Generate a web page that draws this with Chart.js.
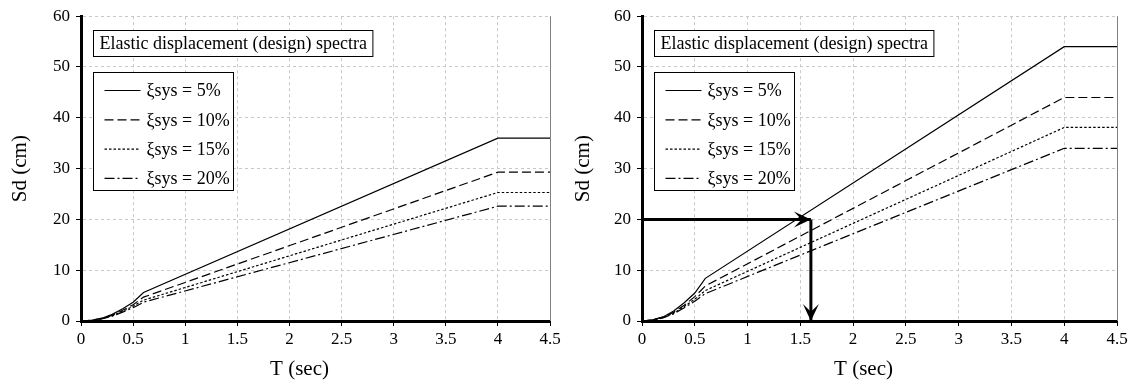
<!DOCTYPE html>
<html>
<head>
<meta charset="utf-8">
<script src="https://cdn.jsdelivr.net/npm/chart.js@4.4.0/dist/chart.umd.min.js"></script>
<style>
  body { margin: 0; background: #fff; }
  #wrap { position: relative; width: 1131px; height: 386px; }
  canvas { position: absolute; top: 0; }
</style>
</head>
<body>
<div id="wrap">
  <canvas id="leftChart" width="565" height="386" style="left:0"></canvas>
  <canvas id="rightChart" width="566" height="386" style="left:565px"></canvas>
</div>
<script>
// periods T (sec) where the curves were read
const periods = [0, 0.1, 0.2, 0.3, 0.4, 0.5, 0.6, 4, 4.5];
const dampingLabels = ['ξsys = 5%', 'ξsys = 10%', 'ξsys = 15%', 'ξsys = 20%'];
const keyTitle = 'Elastic displacement (design) spectra';
const xTitle = 'T (sec)';
const yTitle = 'Sd (cm)';

// left spectrum, Sd (cm)
const leftSd5  = [0, 0.15, 0.55, 1.3, 2.4, 3.7, 5.6, 36.0, 36.0];
const leftSd10 = [0, 0.13, 0.50, 1.15, 2.1, 3.2, 4.7, 29.3, 29.3];
const leftSd15 = [0, 0.12, 0.45, 1.05, 1.9, 2.9, 4.1, 25.3, 25.3];
const leftSd20 = [0, 0.11, 0.42, 0.95, 1.75, 2.6, 3.7, 22.6, 22.6];

// right spectrum, Sd (cm)
const rightSd5  = [0, 0.22, 0.80, 1.95, 3.6, 5.5, 8.4, 54.0, 54.0];
const rightSd10 = [0, 0.20, 0.75, 1.7, 3.1, 4.8, 6.9, 44.0, 44.0];
const rightSd15 = [0, 0.18, 0.68, 1.55, 2.85, 4.3, 6.0, 38.1, 38.1];
const rightSd20 = [0, 0.16, 0.62, 1.4, 2.6, 3.9, 5.4, 34.0, 34.0];

// design arrow on the right chart
const arrowPeriod = 1.6;
const arrowSd = 20;

const dashes = [[], [9, 4], [2.5, 2], [10, 3, 2, 3]];
const serif = '"Liberation Serif", "Times New Roman", serif';

function toPoints(ys) {
    return periods.map((t, i) => ({ x: t, y: ys[i] }));
}

function curveSets(series) {
    return series.map((ys, i) => ({
        label: dampingLabels[i],
        data: toPoints(ys),
        borderColor: '#000',
        borderWidth: 1.2,
        borderDash: dashes[i],
        pointRadius: 0,
        fill: false
    }));
}

// draws the key boxes, the arrow heads, the x title and the right frame line
const keyPlugin = {
    id: 'keyBoxes',
    afterDatasetsDraw(chart) {
        const ctx = chart.ctx;
        const a = chart.chartArea;
        ctx.save();

        // arrow heads
        chart.data.datasets.forEach((ds, di) => {
            if (!ds.arrow) return;
            const pts = chart.getDatasetMeta(di).data;
            const p1 = pts[pts.length - 2], p2 = pts[pts.length - 1];
            const ang = Math.atan2(p2.y - p1.y, p2.x - p1.x);
            const len = 17, half = 8;
            ctx.fillStyle = '#000';
            ctx.beginPath();
            ctx.moveTo(p2.x, p2.y);
            ctx.lineTo(p2.x - len * Math.cos(ang) + half * Math.sin(ang), p2.y - len * Math.sin(ang) - half * Math.cos(ang));
            ctx.lineTo(p2.x - 0.55 * len * Math.cos(ang), p2.y - 0.55 * len * Math.sin(ang));
            ctx.lineTo(p2.x - len * Math.cos(ang) - half * Math.sin(ang), p2.y - len * Math.sin(ang) + half * Math.cos(ang));
            ctx.closePath();
            ctx.fill();
        });

        // right frame
        ctx.strokeStyle = '#808080';
        ctx.lineWidth = 1;
        ctx.beginPath();
        ctx.moveTo(Math.round(a.right) + 0.5, a.top);
        ctx.lineTo(Math.round(a.right) + 0.5, a.bottom);
        ctx.stroke();

        // x axis title, sits a little left of the plot centre
        ctx.fillStyle = '#000';
        ctx.font = '21px ' + serif;
        ctx.textAlign = 'center';
        ctx.textBaseline = 'middle';
        ctx.fillText(xTitle, (a.left + a.right) / 2 - 16, 369);
        ctx.textAlign = 'left';

        // title box
        ctx.font = '18px ' + serif;
        const tw = ctx.measureText(keyTitle).width;
        const bx = Math.round(a.left) + 12.5, by = Math.round(a.top) + 14.5;
        ctx.fillStyle = '#fff';
        ctx.fillRect(bx, by, tw + 12, 26);
        ctx.strokeStyle = '#000';
        ctx.strokeRect(bx, by, tw + 12, 26);
        ctx.fillStyle = '#000';
        ctx.fillText(keyTitle, bx + 6, by + 14);

        // legend box
        const ly = Math.round(a.top) + 56.5;
        ctx.fillStyle = '#fff';
        ctx.fillRect(bx, ly, 140, 118);
        ctx.strokeRect(bx, ly, 140, 118);
        chart.data.datasets.forEach((ds, i) => {
            if (ds.arrow) return;
            const ry = ly + 18 + i * 29.3;
            ctx.strokeStyle = '#000';
            ctx.lineWidth = 1.2;
            ctx.setLineDash(ds.borderDash);
            ctx.beginPath();
            ctx.moveTo(bx + 11, ry);
            ctx.lineTo(bx + 47, ry);
            ctx.stroke();
            ctx.setLineDash([]);
            ctx.fillStyle = '#000';
            ctx.fillText(ds.label, bx + 53, ry + 1);
        });
        ctx.restore();
    }
};

function makeChart(id, series, withArrow, padLeft, yWidth, padRight) {
    const datasets = curveSets(series);
    if (withArrow) {
        datasets.push({
            label: 'arrowH',
            arrow: true,
            data: [{ x: 0, y: arrowSd }, { x: arrowPeriod, y: arrowSd }],
            borderColor: '#000', borderWidth: 3, pointRadius: 0
        });
        datasets.push({
            label: 'arrowV',
            arrow: true,
            data: [{ x: arrowPeriod, y: arrowSd }, { x: arrowPeriod, y: 0 }],
            borderColor: '#000', borderWidth: 3, pointRadius: 0
        });
    }
    return new Chart(document.getElementById(id), {
        type: 'line',
        data: { datasets: datasets },
        plugins: [keyPlugin],
        options: {
            responsive: false,
            animation: false,
            devicePixelRatio: 1,
            layout: { padding: { left: padLeft, top: 13, right: padRight, bottom: 0 } },
            plugins: { legend: { display: false }, tooltip: { enabled: false }, title: { display: false } },
            scales: {
                x: {
                    type: 'linear',
                    min: 0,
                    max: 4.5,
                    ticks: {
                        stepSize: 0.5, color: '#000', font: { family: serif, size: 17 }, padding: 3, maxRotation: 0,
                        callback: v => String(Math.round(v * 10) / 10)
                    },
                    grid: { color: '#c8c8c8', lineWidth: 1, tickColor: '#000', tickLength: 5, tickBorderDash: [] },
                    border: { color: '#000', width: 3, dash: [3, 3] },
                    afterFit(scale) { scale.height = 65; }
                },
                y: {
                    min: 0,
                    max: 60,
                    ticks: { stepSize: 10, color: '#000', font: { family: serif, size: 17 }, padding: 6 },
                    grid: { color: '#c8c8c8', lineWidth: 1, tickColor: '#000', tickLength: 5, tickBorderDash: [] },
                    border: { color: '#000', width: 3, dash: [3, 3] },
                    title: { display: true, text: yTitle, color: '#000', font: { family: serif, size: 21 }, padding: { top: 2, bottom: 4 } },
                    afterFit(scale) { scale.width = yWidth; }
                }
            }
        }
    });
}

makeChart('leftChart', [leftSd5, leftSd10, leftSd15, leftSd20], false, 6, 75, 15);
makeChart('rightChart', [rightSd5, rightSd10, rightSd15, rightSd20], true, 4, 73, 14);
</script>
</body>
</html>
